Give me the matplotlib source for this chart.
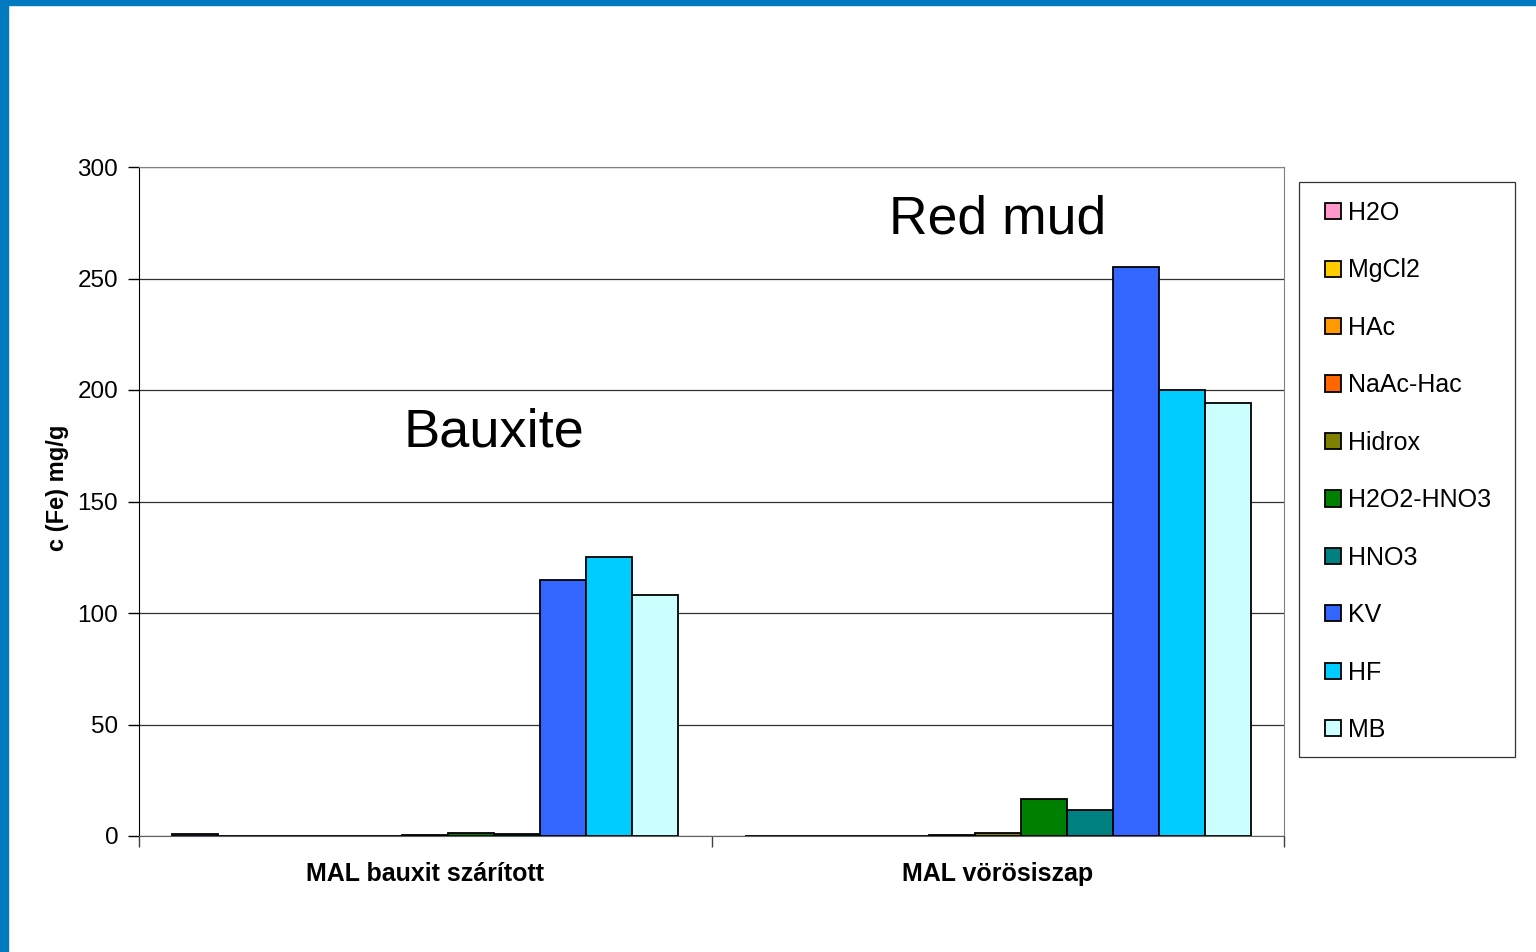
import numpy as np
import matplotlib.pyplot as plt
from matplotlib.patches import Rectangle

plt.rcParams['font.family'] = ['Liberation Sans', 'DejaVu Sans']

########## DATA ##########

categories = ['MAL bauxit szárított', 'MAL vörösiszap']
series = ['_nolegend_', 'H2O', 'MgCl2', 'HAc', 'NaAc-Hac', 'Hidrox',
          'H2O2-HNO3', 'HNO3', 'KV', 'HF', 'MB']
colors = ['#9999FF', '#FF99CC', '#FFCC00', '#FF9900', '#FF6600', '#808000',
          '#008000', '#008080', '#3366FF', '#00CCFF', '#CCFFFF']
bauxite = [0.8, 0, 0, 0, 0, 0.4, 1.5, 0.7, 115, 125, 108]
red_mud = [0, 0, 0, 0, 0.5, 1.5, 16.5, 11.5, 255, 200, 194]
values = np.array([bauxite, red_mud]).T  # rows: series, cols: categories

########## PLOT ##########

fig = plt.figure(figsize=(15.36, 9.52), dpi=100)
ax = fig.add_axes([139/1536, 1-836/952, (1284-139)/1536, (836-167)/952])

n = len(series)
width = 46/572.5
x = np.arange(len(categories))
for i in range(n):
    offs = (i - (n-1)/2) * width
    ax.bar(x + offs, values[i], width, color=colors[i], edgecolor='black',
           linewidth=1.3, label=series[i], zorder=3)

ax.set_xlim(-0.5, 1.5)
ax.set_ylim(0, 300)
ax.set_yticks(range(0, 301, 50))
ax.yaxis.grid(True, color='#303030', linewidth=0.9, zorder=0)
ax.tick_params(axis='y', labelsize=17.5, length=8, width=1, direction='out', pad=7)

ax.set_xticks([-0.5, 0.5, 1.5])
ax.set_xticklabels([])
ax.tick_params(axis='x', which='major', length=8, width=1, direction='out', color='#404040')
ax.set_xticks(x, minor=True)
ax.set_xticklabels(categories, minor=True, fontsize=18, fontweight='bold')
ax.tick_params(axis='x', which='minor', length=0, pad=19)

for s in ['top', 'right']:
    ax.spines[s].set_color('#808080')
ax.spines['left'].set_color('black')
ax.spines['bottom'].set_color('#606060')

ax.set_ylabel('c (Fe) mg/g', fontsize=17, fontweight='bold')
ax.yaxis.set_label_coords(-0.061, 0.52)

ax.text(0.12, 181, 'Bauxite', fontsize=39, ha='center', va='center')
ax.text(1.0, 276.5, 'Red mud', fontsize=38.5, ha='center', va='center')

# legend without its own frame, box drawn separately
leg = fig.legend(loc='upper left', bbox_to_anchor=(1325/1536, 1-201/952),
                 fontsize=18, frameon=False,
                 handlelength=0.62, handleheight=0.62, handletextpad=0.3,
                 labelspacing=1.338, borderpad=0, borderaxespad=0)
fig.patches.append(Rectangle((1299/1536, 1-757/952), (1515-1299)/1536, (757-182)/952,
                             transform=fig.transFigure, facecolor='none',
                             edgecolor='#333333', linewidth=0.9))

# blue slide border
fig.patches.append(Rectangle((0, 1-5/952), 1, 5/952, transform=fig.transFigure,
                             color='#0079BE', zorder=10))
fig.patches.append(Rectangle((0, 0), 8/1536, 1, transform=fig.transFigure,
                             color='#0079BE', zorder=10))

fig.savefig('out.png', dpi=100)
